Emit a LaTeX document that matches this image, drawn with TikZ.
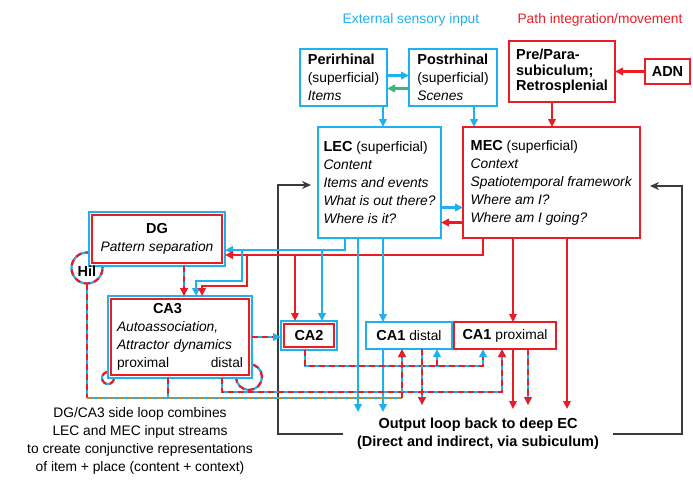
\documentclass[tikz,border=0pt]{standalone}
\usepackage{fontspec}
\setmainfont{Liberation Sans}
\usetikzlibrary{arrows.meta}
\definecolor{skycyan}{HTML}{1EB1EE}
\definecolor{ecred}{HTML}{EC1C24}
\definecolor{sidegreen}{HTML}{3DB67C}
\definecolor{olivedash}{HTML}{B08D3E}
\definecolor{loopgray}{HTML}{3A3A3A}
\newcommand{\boldlbl}[1]{{\fontsize{14.5}{18}\selectfont\bfseries #1}}

\tikzset{
  box/.style={draw, line width=2.5pt, fill=white, anchor=north west, inner sep=3pt, outer sep=0pt, align=left},
  cbox/.style={box, draw=skycyan},
  rbox/.style={box, draw=ecred, line width=2.9pt},
  redinner/.style={draw=ecred, line width=2.6pt},
  cline/.style={draw=skycyan, line width=2.2pt},
  rline/.style={draw=ecred, line width=2.2pt},
  gline/.style={draw=sidegreen, line width=2.2pt},
  mixline/.style={draw=skycyan, line width=2.2pt, postaction={draw=ecred, dash pattern=on 6pt off 4pt}},
  mixcyantip/.style={draw=skycyan, line width=2.2pt, ->, postaction={draw=ecred, dash pattern=on 6pt off 4pt, -, shorten >=8pt}},
  oliveline/.style={draw=skycyan, line width=2.2pt, postaction={draw=olivedash, dash pattern=on 6pt off 4pt}},
  loopline/.style={draw=loopgray, line width=1.5pt, -{Stealth[length=9pt,width=8pt]}},
}

\begin{document}
\begin{tikzpicture}[x=1pt, y=-1pt, >={Triangle[length=8pt,width=7.5pt]}, font=\fontsize{13.8}{18}\selectfont]
\useasboundingbox (0,0) rectangle (693,480);

% side loops round the corners (boxes are drawn over them)
\draw[mixline] (87,268) circle[radius=15.5pt];
\draw[mixline] (108,378) circle[radius=6pt];
\draw[mixline] (249,377) circle[radius=13pt];

% Headings
\node[text=skycyan] (exttitle) at (411,20) {External sensory input};
\node[text=ecred] (pathtitle) at (600,20) {Path integration/movement};

% Cortical input boxes
\node[cbox, minimum width=87pt, minimum height=57pt] (peri) at (300,49)
  {\boldlbl{Perirhinal}\\(superficial)\\\textit{Items}};
\node[cbox, minimum width=88pt, minimum height=57pt] (post) at (409,49)
  {\boldlbl{Postrhinal}\\(superficial)\\\textit{Scenes}};
\node[rbox, minimum width=106pt, minimum height=61pt, font=\fontsize{14.5}{15.5}\selectfont\bfseries] (para) at (509,41)
  {Pre/Para-\\subiculum;\\Retrosplenial};
\node[rbox, minimum width=45pt, minimum height=25pt] (adn) at (645,59) {\boldlbl{ADN}};

% Entorhinal cortex
\node[cbox, minimum width=123pt, minimum height=111pt] (lec) at (318,127)
  {\boldlbl{LEC} (superficial)\\\textit{Content}\\\textit{Items and events}\\\textit{What is out there?}\\\textit{Where is it?}};
\node[rbox, minimum width=177pt, minimum height=111pt] (mec) at (463,127)
  {\boldlbl{MEC} (superficial)\\\textit{Context}\\\textit{Spatiotemporal framework}\\\textit{Where am I?}\\\textit{Where am I going?}};

% Hippocampal fields (cyan outside, red inside)
\node[cbox, align=center, minimum width=136pt, minimum height=54pt] (dg) at (89,212)
  {\boldlbl{DG}\\\textit{Pattern separation}};
\draw[redinner] ([shift={(3,3)}]dg.north west) rectangle ([shift={(-3,-3)}]dg.south east);
\node[cbox, text width=126pt, minimum width=144pt, minimum height=82pt] (ca3) at (108,296)
  {\hspace*{36pt}\boldlbl{CA3}\\\textit{Autoassociation,}\\\textit{Attractor dynamics}\\proximal\hfill distal};
\draw[redinner] ([shift={(3,3)}]ca3.north west) rectangle ([shift={(-3,-3)}]ca3.south east);
\node[cbox, align=center, minimum width=56pt, minimum height=29pt] (ca2) at (281,321) {\boldlbl{CA2}};
\draw[redinner] ([shift={(3,3)}]ca2.north west) rectangle ([shift={(-3,-3)}]ca2.south east);
\node[cbox, minimum width=86pt, minimum height=27pt] (ca1d) at (366,322) {\boldlbl{CA1} distal};
\node[rbox, minimum width=102pt, minimum height=27pt] (ca1p) at (454,322) {\boldlbl{CA1} proximal};

\node (hil) at (87,271) {\boldlbl{Hil}};
\coordinate (hilbot) at (87,283.5);

% Texts at the bottom
\node[align=center, inner xsep=14pt, inner ysep=3pt] (outtxt) at (478,434)
  {\boldlbl{Output loop back to deep EC}\\\boldlbl{(Direct and indirect, via subiculum)}};
\node[align=center] (sidenote) at (140,441)
  {DG/CA3 side loop combines\\LEC and MEC input streams\\to create conjunctive representations\\of item + place (content + context)};

% Taps on the box edges
\coordinate (periOut) at ([xshift=-4pt]peri.south east);
\coordinate (postOut) at ([xshift=-23pt]post.south east);
\coordinate (paraOut) at ([xshift=43pt]para.south west);
\coordinate (lecA) at ([xshift=27pt]lec.south west);
\coordinate (lecB) at ([xshift=40pt]lec.south west);
\coordinate (lecC) at ([xshift=65pt]lec.south west);
\coordinate (mecA) at ([xshift=20pt]mec.south west);
\coordinate (mecB) at ([xshift=50pt]mec.south west);
\coordinate (mecC) at ([xshift=104pt]mec.south west);
\coordinate (dgOut) at ([xshift=95pt]dg.south west);
\coordinate (ca3inC) at ([xshift=88pt]ca3.north west);
\coordinate (ca3inR) at ([xshift=94pt]ca3.north west);
\coordinate (ca3OutP) at ([xshift=60pt]ca3.south west);
\coordinate (ca3OutD) at ([xshift=114pt]ca3.south west);
\coordinate (ca2inR) at ([xshift=14pt]ca2.north west);
\coordinate (ca2inC) at ([xshift=41pt]ca2.north west);
\coordinate (ca2Out) at ([xshift=24pt]ca2.south west);
\coordinate (ca1dOut) at ([xshift=17pt]ca1d.south west);
\coordinate (ca1dInB) at ([xshift=36pt]ca1d.south west);
\coordinate (ca1dB) at ([xshift=56pt]ca1d.south west);
\coordinate (ca1dInA) at ([xshift=71pt]ca1d.south west);
\coordinate (ca1pInA) at ([xshift=29pt]ca1p.south west);
\coordinate (ca1pInB) at ([xshift=48pt]ca1p.south west);
\coordinate (ca1pA) at ([xshift=59pt]ca1p.south west);
\coordinate (ca1pB) at ([xshift=74pt]ca1p.south west);
\coordinate (endC) at (0,412);
\coordinate (endR) at (0,409);
\coordinate (endD) at (0,405);
\coordinate (loopL) at (278,185);
\coordinate (loopR) at (682,186);

% Output loop back to EC
\draw[loopline, shorten >=7pt] (outtxt.west) -| (loopL) -- (loopL -| lec.west);
\draw[loopline, shorten >=10pt] (outtxt.east) -| (loopR) -- (loopR -| mec.east);

% Top row
\draw[cline,->] ([yshift=2pt]peri.east) -- ([yshift=2pt]post.west);
\draw[gline,->] ([yshift=-11pt]post.west) -- ([yshift=-11pt]peri.east);
\draw[rline,->] (adn) -- (para);
\draw[cline,->] (periOut) -- (periOut |- lec.north);
\draw[cline,->] (postOut) -- (postOut |- mec.north);
\draw[rline,->] (paraOut) -- (paraOut |- mec.north);

% LEC <-> MEC
\draw[cline,->] ([yshift=-25pt]lec.east) -- ([yshift=-25pt]mec.west);
\draw[rline,->] ([yshift=-40pt]mec.west) -- ([yshift=-40pt]lec.east);

% Perforant path to DG, CA3, CA2
\draw[cline,->] (lecA) |- ([yshift=-11pt]dg.east);
\draw[rline,->] (mecA) |- ([yshift=-16pt]dg.east);
\draw[cline,->] (242,250) -- (242,281) -| (ca3inC);
\draw[rline,->] (247,255) -- (247,286) -| (ca3inR);
\draw[rline,->] (295,255) -- (ca2inR);
\draw[cline,->] (322,250) -- (ca2inC);

% To CA1 and out
\draw[cline,->] (lecB) -- (lecB |- endC);
\draw[cline,->] (lecC) -- (lecC |- ca1d.north);
\draw[cline,->] (ca1dOut) -- (ca1dOut |- endC);
\draw[rline,->] (mecB) -- (mecB |- ca1p.north);
\draw[rline,->] (mecC) -- (mecC |- endR);
\draw[rline,->] (ca1pA) -- (ca1pA |- endR);

% Mixed (dashed) pathways
\draw[mixline,->] (dgOut) -- (dgOut |- ca3.north);
\draw[mixcyantip] (ca3.east) -- (ca3.east -| ca2.west);
\draw[mixcyantip] (ca2Out) -- (305,366) -| (ca1pInA);
\draw[mixcyantip] (437,366) -- (ca1dInA);
\draw[mixline,->] (ca3OutD) -- (222,392) -| (ca1pInB);
\draw[mixline] (ca3OutP) -- (168,398);
\draw[mixline] (hilbot) -- (87,398);
\draw[oliveline] (87,398) -- (402,398);
\draw[mixline,->] (402,398) -- (ca1dInB);
\draw[mixline,->] (ca1dB) -- (ca1dB |- endD);
\draw[mixline,->] (ca1pB) -- (ca1pB |- endD);

\end{tikzpicture}
\end{document}
